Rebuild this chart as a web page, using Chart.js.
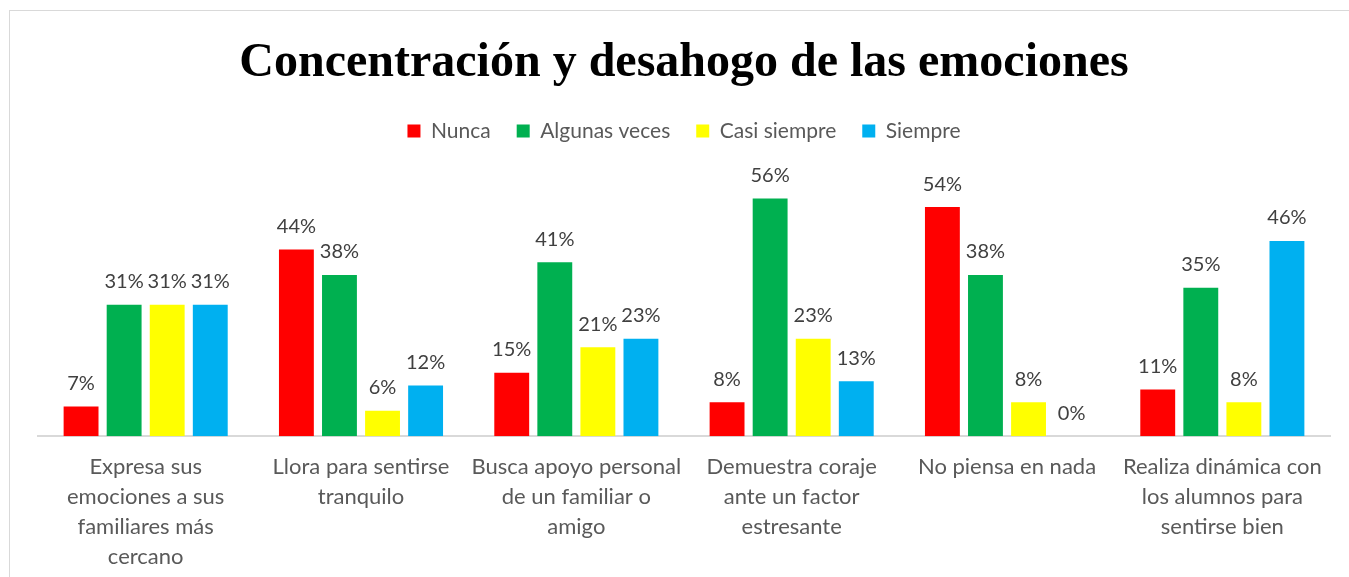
<!DOCTYPE html>
<html>
<head>
<meta charset="utf-8">
<script src="https://cdn.jsdelivr.net/npm/chart.js@4/dist/chart.umd.min.js"></script>
<style>
  body { margin: 0; background: #fff; overflow: hidden; }
  #box { position: absolute; left: 9px; top: 10px; width: 1346px; height: 590px; border: 1px solid #d9d9d9; box-sizing: border-box; }
  #wrap { position: absolute; left: 0; top: 0; width: 1340px; height: 577px; }
</style>
</head>
<body>
<div id="box"><div id="wrap"><canvas id="chart"></canvas></div></div>
<script>
const categories = [
    ["Expresa sus", "emociones a sus", "familiares más", "cercano"],
    ["Llora para sentirse", "tranquilo"],
    ["Busca apoyo personal", "de un familiar o", "amigo"],
    ["Demuestra coraje", "ante un factor", "estresante"],
    ["No piensa en nada"],
    ["Realiza dinámica con", "los alumnos para", "sentirse bien"]
];
const seriesNames = ["Nunca", "Algunas veces", "Casi siempre", "Siempre"];
const nunca = [7, 44, 15, 8, 54, 11];
const algunasVeces = [31, 38, 41, 56, 38, 35];
const casiSiempre = [31, 6, 21, 23, 8, 8];
const siempre = [31, 12, 23, 13, 0, 46];
const colors = ["#ff0000", "#00b050", "#ffff00", "#00b0f0"];

const labelFont = "Lato, 'Open Sans', sans-serif";

// draws the percentage above each bar
const valueLabels = {
    id: "valueLabels",
    afterDatasetsDraw(chart) {
        const ctx = chart.ctx;
        ctx.save();
        ctx.font = "20px " + labelFont;
        ctx.fillStyle = "#404040";
        ctx.textAlign = "center";
        ctx.textBaseline = "bottom";
        chart.data.datasets.forEach((ds, i) => {
            chart.getDatasetMeta(i).data.forEach((bar, j) => {
                ctx.fillText(ds.data[j] + "%", bar.x, bar.y - 13);
            });
        });
        ctx.restore();
    }
};

// extra room under the legend
const legendMargin = {
    id: "legendMargin",
    beforeInit(chart) {
        const fit = chart.legend.fit;
        chart.legend.fit = function () {
            fit.bind(chart.legend)();
            this.height += 30;
        };
    }
};

let ctx = document.getElementById("chart").getContext("2d");
new Chart(ctx, {
    type: "bar",
    data: {
        labels: categories,
        datasets: [nunca, algunasVeces, casiSiempre, siempre].map((d, i) => ({
            label: seriesNames[i],
            data: d,
            backgroundColor: colors[i],
            categoryPercentage: 0.8,
            barPercentage: 0.81
        }))
    },
    options: {
        responsive: true,
        maintainAspectRatio: false,
        animation: false,
        layout: { padding: { left: 28, right: 20, top: 14, bottom: 0 } },
        plugins: {
            title: {
                display: true,
                text: "Concentración y desahogo de las emociones",
                color: "#000",
                font: { family: "'Liberation Serif', 'Times New Roman', serif", size: 48, weight: "bold" },
                padding: { top: 10, bottom: 2 }
            },
            legend: {
                labels: {
                    boxWidth: 13,
                    boxHeight: 13,
                    color: "#595959",
                    font: { family: labelFont, size: 21 },
                    padding: 26
                }
            },
            tooltip: { enabled: false }
        },
        scales: {
            x: {
                grid: { display: false, drawTicks: false },
                border: { color: "#d9d9d9", width: 2 },
                ticks: {
                    color: "#595959",
                    font: { family: labelFont, size: 22, lineHeight: 1.36 },
                    padding: 16,
                    maxRotation: 0,
                    autoSkip: false
                }
            },
            y: {
                display: false,
                min: 0,
                max: 60
            }
        }
    },
    plugins: [valueLabels, legendMargin]
});
</script>
</body>
</html>
